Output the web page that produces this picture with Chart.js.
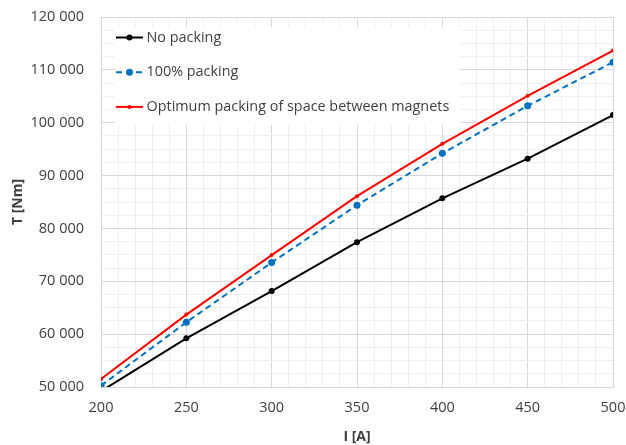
<!DOCTYPE html>
<html>
<head>
<meta charset="utf-8">
<script src="https://cdn.jsdelivr.net/npm/chart.js@4"></script>
<style>
  html, body { margin: 0; padding: 0; background: #fff; }
  #wrap { width: 626px; height: 445px; }
</style>
</head>
<body>
<div id="wrap"><canvas id="myChart"></canvas></div>
<script>
// current I [A]
const currents = [200, 250, 300, 350, 400, 450, 500];
// torque T [Nm]
const noPacking = [49200, 59200, 68150, 77400, 85700, 93200, 101450];
const fullPacking = [50250, 62250, 73550, 84400, 94200, 103200, 111450];
const optimumPacking = [51500, 63700, 74950, 86100, 96000, 105100, 113650];
const seriesNames = ['No packing', '100% packing', 'Optimum packing of space between magnets'];

const pts = (ys) => currents.map((x, i) => ({ x: x, y: ys[i] }));
const fmt = (v) => String(v).replace(/\B(?=(\d{3})+(?!\d))/g, ' ');

// legend drawn inside the plot, with white box like excel
const boxLegend = {
    id: 'boxLegend',
    afterDatasetsDraw(chart) {
        const ctx = chart.ctx;
        const a = chart.chartArea;
        const x0 = a.left + 14, y0 = a.top + 10;
        ctx.save();
        ctx.fillStyle = '#fff';
        ctx.fillRect(x0, y0, 345, 98);
        ctx.font = '14.4px "Open Sans"';
        ctx.textBaseline = 'middle';
        chart.data.datasets.forEach((ds, i) => {
            const y = y0 + 10.5 + i * 34.7;
            ctx.strokeStyle = ds.borderColor;
            ctx.lineWidth = 2;
            ctx.setLineDash(ds.borderDash || []);
            ctx.beginPath();
            ctx.moveTo(x0 + 1, y);
            ctx.lineTo(x0 + 28, y);
            ctx.stroke();
            ctx.setLineDash([]);
            ctx.fillStyle = ds.borderColor;
            ctx.beginPath();
            ctx.arc(x0 + 14.5, y, ds.pointRadius, 0, Math.PI * 2);
            ctx.fill();
            ctx.fillStyle = '#404040';
            ctx.fillText(ds.label, x0 + 31.5, y);
        });
        ctx.restore();
    }
};

const ctx = document.getElementById('myChart').getContext('2d');
new Chart(ctx, {
    type: 'line',
    data: {
        datasets: [{
            label: seriesNames[0],
            data: pts(noPacking),
            borderColor: '#000000',
            backgroundColor: '#000000',
            borderWidth: 2,
            pointRadius: 3,
            pointBorderWidth: 0
        }, {
            label: seriesNames[1],
            data: pts(fullPacking),
            borderColor: '#0070C0',
            backgroundColor: '#0070C0',
            borderWidth: 2,
            borderDash: [6, 4],
            pointRadius: 3.5,
            pointBorderWidth: 0
        }, {
            label: seriesNames[2],
            data: pts(optimumPacking),
            borderColor: '#FF0000',
            backgroundColor: '#FF0000',
            borderWidth: 2,
            pointRadius: 2,
            pointBorderWidth: 0
        }]
    },
    options: {
        responsive: true,
        maintainAspectRatio: false,
        animation: false,
        layout: { padding: { top: 17, right: 13, bottom: 0, left: 0 } },
        scales: {
            x: {
                type: 'linear',
                min: 200,
                max: 500,
                afterFit: (s) => {
                    s.height = 58;
                    s.paddingLeft = 0;
                    s.paddingRight = 0;
                },
                ticks: {
                    stepSize: 10,
                    autoSkip: false,
                    maxRotation: 0,
                    color: '#404040',
                    font: { family: 'Open Sans', size: 14.5 },
                    padding: 12,
                    callback: (v) => (v % 50 === 0 ? v : '')
                },
                grid: {
                    drawTicks: false,
                    color: (c) => (c.tick && c.tick.value % 50 === 0 ? '#d9d9d9' : '#efefef')
                },
                border: { color: '#d9d9d9' },
                title: {
                    display: true,
                    text: 'I [A]',
                    color: '#404040',
                    font: { family: 'Open Sans', size: 14, weight: 'bold' },
                    padding: { top: 4, bottom: 0 }
                }
            },
            y: {
                min: 50000,
                max: 120000,
                afterFit: (s) => {
                    s.width = 101;
                    s.paddingTop = 0;
                    s.paddingBottom = 0;
                },
                ticks: {
                    stepSize: 2500,
                    autoSkip: false,
                    color: '#404040',
                    font: { family: 'Open Sans', size: 14.5 },
                    padding: 17,
                    callback: (v) => (v % 10000 === 0 ? fmt(v) : '')
                },
                grid: {
                    drawTicks: false,
                    color: (c) => (c.tick && c.tick.value % 10000 === 0 ? '#d9d9d9' : '#efefef')
                },
                border: { color: '#d9d9d9' },
                title: {
                    display: true,
                    text: 'T [Nm]',
                    color: '#404040',
                    font: { family: 'Open Sans', size: 14, weight: 'bold' },
                    padding: { top: 10, bottom: 4 }
                }
            }
        },
        plugins: {
            legend: { display: false },
            tooltip: { enabled: false }
        }
    },
    plugins: [boxLegend]
});
</script>
</body>
</html>
